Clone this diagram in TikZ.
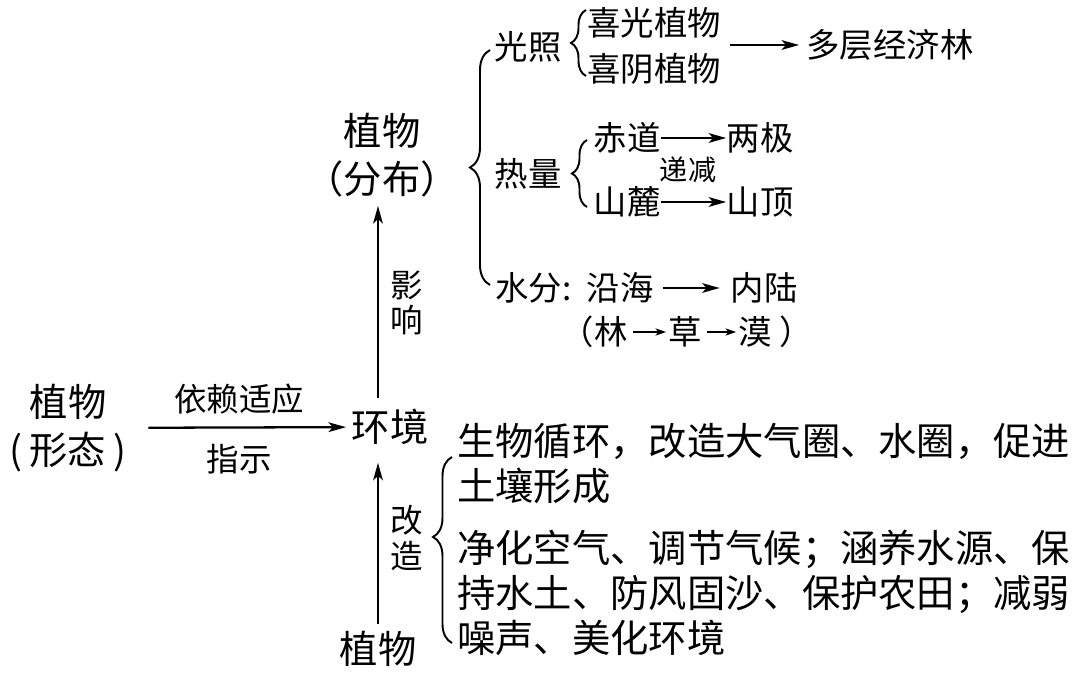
\documentclass[tikz,border=0pt]{standalone}
\usepackage{fontspec}
\setmainfont{Noto Sans CJK SC}
\usetikzlibrary{positioning}
\usetikzlibrary{arrows.meta,calc,decorations.pathreplacing}
\tikzset{
    >={Stealth[length=10pt,width=5.5pt,inset=2.5pt]}, % slim arrow heads
    big/.style={inner sep=0pt, font=\fontsize{21.8}{27}\selectfont},
    sub/.style={inner sep=0pt, font=\fontsize{19}{23}\selectfont},
    lbl/.style={inner sep=1pt, font=\fontsize{18.5}{20}\selectfont},
    tiny/.style={inner sep=0pt, font=\fontsize{16}{18}\selectfont},
    arr/.style={->, line width=1.3pt},
    smallarr/.style={-{Stealth[length=6pt,width=4pt,inset=1.5pt]}, line width=1.1pt},
    brc/.style={decorate, decoration={brace, amplitude=#1}, line width=1.1pt},
}

\begin{document}
\begin{tikzpicture}[x=0.02cm, y=-0.02cm]
            \useasboundingbox (0,0) rectangle (1080,679);

            % centre row
            \node[big, align=center] (xt) at (68,428) {植物\\(\hspace{0.2em}形态\hspace{0.2em})};
            \node[big] (hj) at (390,427) {环境};
            \node[big] (zw) at (378,649) {植物};
            \node[big, align=center] (zwb) at (382,155) {植物\\（分布）};

            \draw[arr, shorten <=12pt, shorten >=3pt] (xt) --
                node[lbl, above=0.2cm] (yl) {依赖适应}
                node[lbl, below=0.28cm] (zs) {指示} (hj);
            \draw[arr, shorten <=4pt, shorten >=10pt] (zw) --
                node[lbl, right=0.2cm, align=center] (gz2) {改\\造} (zw |- hj.south);
            \draw[arr, shorten <=6pt, shorten >=5pt] (zw |- hj.north) --
                node[lbl, right=0.2cm, align=center] (yx) {影\\响} (zw |- zwb.south);

            % top branch
            \draw[brc=0.4cm] (490,285) -- (490,50);
            \node[sub] (gz) at (528,47) {光照};
            \draw[brc=0.3cm] (586,76) -- (586,10);
            \node[sub] (xg) at (654,23) {喜光植物};
            \node[sub] (xy) at (654,69) {喜阴植物};
            \node[sub] (dc) at (890,45) {多层经济林};
            \draw[arr, shorten <=5pt, shorten >=4pt] (dc.west -| xg.east) -- (dc.west);

            \node[sub] (rl) at (528,174) {热量};
            \draw[brc=0.3cm] (587,207) -- (587,140);
            \node[sub] (cd) at (627,138) {赤道};
            \node[sub] (lj) at (760,138) {两极};
            \node[tiny] (dj) at (688,170) {递减};
            \node[sub] (sl) at (627,202) {山麓};
            \node[sub] (sd) at (760,202) {山顶};
            \draw[arr] (cd) -- (lj);
            \draw[arr] (sl) -- (sd);

            \node[sub, anchor=west] (sf) at (495,288) {水分:};
            \node[sub] (yh) at (620,288) {沿海};
            \node[sub] (nl) at (764,288) {内陆};
            \draw[arr, shorten <=5pt, shorten >=6pt] (yh) -- (nl);
            \node[sub] (lin) at (611,332) {林};
            \node[sub] (cao) at (685,332) {草};
            \node[sub] (mo) at (755,332) {漠};
            \node[sub, left=0pt of lin] (lp) {（};
            \node[sub, right=0.15cm of mo] (rp) {）};
            \draw[smallarr, shorten <=3pt, shorten >=1pt] (lin) -- (cao);
            \draw[smallarr, shorten <=3pt, shorten >=1pt] (cao) -- (mo);

            % bottom branch
            \draw[brc=0.38cm, decoration={aspect=0.57}] (452,643) -- (452,457);
            \node[big, anchor=west] (t1) at (457,441) {生物循环，改造大气圈、水圈，促进};
            \node[big, anchor=west] (t2) at (457,486) {土壤形成};
            \node[big, anchor=west] (t3) at (457,549) {净化空气、调节气候；涵养水源、保};
            \node[big, anchor=west] (t4) at (457,594) {持水土、防风固沙、保护农田；减弱};
            \node[big, anchor=west] (t5) at (457,638) {噪声、美化环境};
\end{tikzpicture}
\end{document}
